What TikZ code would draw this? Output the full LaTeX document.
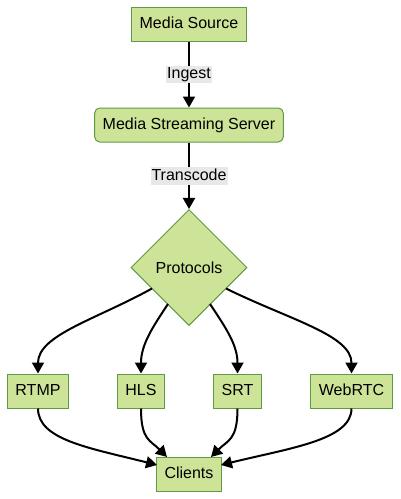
\documentclass[tikz,border=0pt]{standalone}
\usepackage{fontspec}
\setmainfont{Liberation Sans}
\usetikzlibrary{shapes.geometric,arrows.meta}
\definecolor{nodefill}{HTML}{CDE498}
\definecolor{nodeborder}{HTML}{5E9B44}
\definecolor{labelbg}{HTML}{E8E8E8}
\begin{document}
\begin{tikzpicture}[x=1pt,y=-1pt,
  font=\fontsize{16}{19}\selectfont,
  box/.style={draw=nodeborder,fill=nodefill,line width=1pt,inner xsep=8pt,inner ysep=0pt,minimum height=34pt,text height=12pt,text depth=3.5pt},
  rbox/.style={box,rounded corners=5pt},
  dia/.style={diamond,draw=nodeborder,fill=nodefill,line width=1pt,inner sep=0pt,minimum width=116pt,minimum height=116pt,aspect=1},
  edge/.style={draw=black,line width=2pt,-{Triangle[length=11pt,width=12pt]}},
  elabel/.style={fill=labelbg,inner xsep=1pt,inner ysep=1pt,text height=12pt,text depth=3.5pt}
]
\useasboundingbox (0,0) rectangle (400,499);
\node[box] (src) at (189,24) {Media Source};
\node[rbox] (srv) at (189,125) {Media Streaming Server};
\node[dia] (proto) at (189,267.5) {Protocols};
\node[box] (rtmp) at (38,391) {RTMP};
\node[box] (hls) at (141,391) {HLS};
\node[box] (srt) at (237.5,391) {SRT};
\node[box] (webrtc) at (351.5,391) {WebRTC};
\node[box] (cl) at (189,474) {Clients};

\draw[edge] (src) -- node[elabel] {Ingest} (srv);
\draw[edge] (srv) -- node[elabel] {Transcode} (proto);

\coordinate (p1) at (152,288.5);
\coordinate (p2) at (168,304);
\coordinate (p3) at (210,304);
\coordinate (p4) at (226,288.5);
\draw[edge] (p1) .. controls (95,320) and (38,335) .. (rtmp.north);
\draw[edge] (p2) .. controls (152,328) and (141,345) .. (hls.north);
\draw[edge] (p3) .. controls (226,328) and (237.5,345) .. (srt.north);
\draw[edge] (p4) .. controls (290,320) and (351.5,335) .. (webrtc.north);

\coordinate (c1) at (157,465);
\coordinate (c2) at (167,457);
\coordinate (c3) at (211,457);
\coordinate (c4) at (221,465);
\draw[edge] (rtmp.south) .. controls (38,440) and (90,448) .. (c1);
\draw[edge] (hls.south) .. controls (141,440) and (150,440) .. (c2);
\draw[edge] (srt.south) .. controls (237.5,440) and (228,440) .. (c3);
\draw[edge] (webrtc.south) .. controls (351.5,440) and (290,448) .. (c4);
\end{tikzpicture}
\end{document}
